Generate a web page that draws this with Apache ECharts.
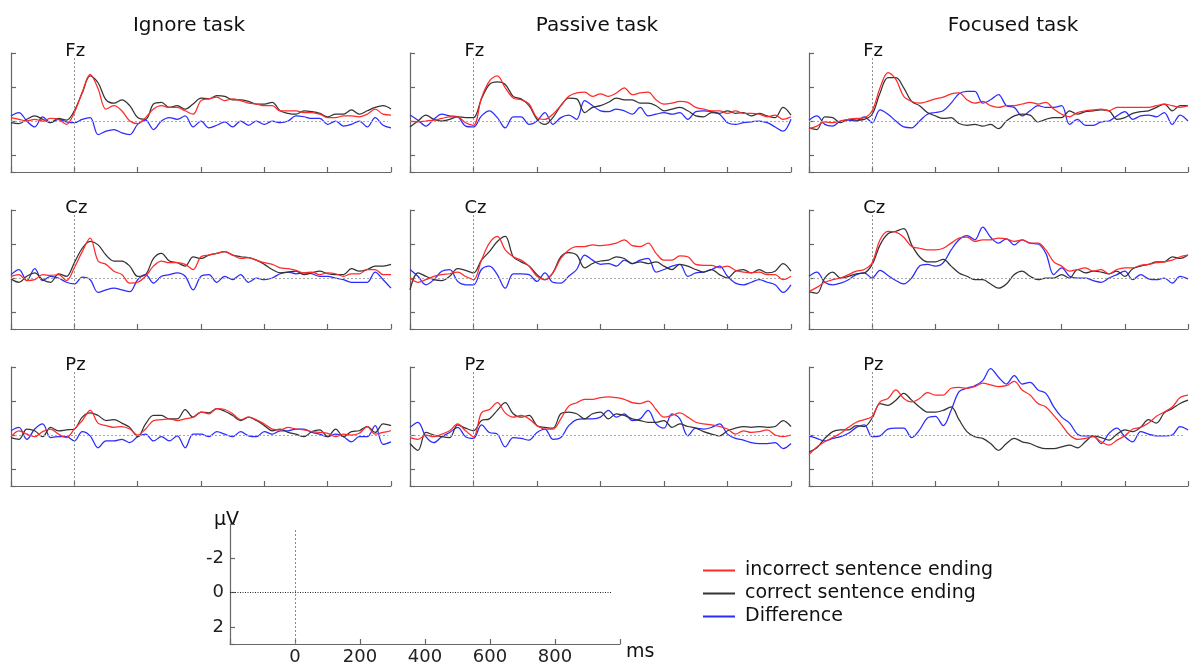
<!DOCTYPE html>
<html>
<head>
<meta charset="utf-8">
<script src="https://cdn.jsdelivr.net/npm/echarts@6/dist/echarts.min.js"></script>
<style>
  html, body { margin: 0; padding: 0; background: #ffffff; }
  #chart { width: 1192px; height: 663px; }
</style>
</head>
<body>
<div id="chart"></div>
<script>
// ---------------- data ----------------
const timeMs = [-200,-175,-150,-125,-100,-75,-50,-25,0,25,50,75,100,125,150,175,200,225,250,275,300,325,350,375,400,425,450,475,500,525,550,575,600,625,650,675,700,725,750,775,800,825,850,875,900,925,950,975,1000];
const taskNames = ['Ignore task', 'Passive task', 'Focused task'];
const electrodeNames = ['Fz', 'Cz', 'Pz'];
const seriesNames = ['incorrect sentence ending', 'correct sentence ending', 'Difference'];
const scaleXTicks = [0, 200, 400, 600, 800];
const scaleYTicks = [-2, 0, 2];

// Fz
const fzIgnoreIncorrect = [-0.2,-0.1,0,-0.1,0,-0.15,-0.1,0.2,-0.5,-1.7,-2.75,-1.9,-0.7,-0.9,-0.6,0,0.15,-0.2,-0.7,-0.9,-0.8,-0.8,-0.6,-0.4,-1.2,-1.3,-1.4,-1.2,-1.3,-1.2,-1.05,-1.0,-0.9,-0.9,-0.6,-0.6,-0.6,-0.5,-0.5,-0.4,-0.2,-0.2,-0.3,-0.3,-0.25,-0.4,-0.7,-0.4,-0.35];
const fzIgnoreCorrect = [0.1,0.15,-0.1,-0.3,-0.1,0.1,-0.15,-0.05,-0.6,-1.65,-2.65,-2.25,-1.25,-1.05,-1.25,-0.9,-0.2,-0.1,-1.0,-1.1,-0.8,-0.9,-0.7,-1.0,-1.35,-1.3,-1.5,-1.45,-1.25,-1.25,-1.15,-1.0,-1.0,-1.1,-0.6,-0.45,-0.4,-0.6,-0.55,-0.45,-0.25,-0.4,-0.4,-0.65,-0.4,-0.6,-0.8,-0.9,-0.7];
const fzIgnoreDiff = [-0.3,-0.5,0,0.35,-0.25,0.1,-0.1,0.05,0.1,-0.1,-0.2,0.8,0.6,0.5,0.7,0.8,0.2,-0.05,0.5,0,-0.2,-0.1,-0.3,0.35,0,0.4,0.25,0.05,0.35,0,0.25,0,0.2,0,0.1,0,-0.3,-0.25,-0.15,-0.15,0.2,0,0.3,0.2,0,0.35,-0.2,0.25,0.4];
const fzPassiveIncorrect = [0,0.05,0,-0.05,-0.15,-0.25,-0.25,0.1,0.25,-1.35,-2.35,-2.65,-1.95,-1.35,-1.25,-1.0,-0.2,-0.1,-0.4,-0.9,-1.45,-1.65,-1.7,-1.45,-1.6,-1.45,-1.65,-1.95,-1.55,-1.65,-1.7,-1.25,-1.0,-1.05,-1.15,-1.1,-0.8,-0.7,-0.6,-0.6,-0.45,-0.6,-0.45,-0.45,-0.4,-0.25,-0.35,-0.1,-0.25];
const fzPassiveCorrect = [0.35,0,-0.35,-0.1,0,-0.1,-0.25,-0.2,-0.2,-1.3,-2.15,-2.3,-2.15,-1.45,-1.3,-0.9,-0.1,0.2,-0.2,-0.9,-1.35,-1.3,-0.5,-0.8,-0.9,-1.1,-1.35,-1.25,-1.25,-1.05,-1.05,-0.9,-0.6,-0.7,-0.8,-0.6,-0.3,-0.25,-0.5,-0.45,-0.6,-0.45,-0.5,-0.3,-0.45,-0.3,-0.2,-0.8,-0.35];
const fzPassiveDiff = [-0.35,-0.05,0.3,-0.1,-0.4,-0.3,-0.25,0.3,0.35,-0.3,-0.6,-0.2,0.4,-0.25,-0.25,0.2,0,-0.5,0.2,-0.2,-0.35,-0.1,-1.2,-0.9,-0.6,-0.55,-0.7,-0.6,-0.4,-0.8,-0.3,-0.4,-0.5,-0.4,-0.5,-0.1,-0.55,-0.6,-0.55,-0.4,0.1,0.2,0.1,0.05,0,0.1,0.35,0.6,-0.1];
const fzFocusedIncorrect = [0.45,0.3,0.05,0.1,0,-0.1,-0.15,-0.2,-0.6,-1.95,-2.85,-2.45,-1.45,-1.15,-1.05,-1.15,-1.3,-1.4,-1.6,-1.65,-1.25,-1.05,-1.15,-0.9,-0.8,-0.9,-0.9,-1.0,-1.1,-1.0,-1.1,-0.7,-0.4,-0.25,-0.5,-0.6,-0.65,-0.7,-0.6,-0.8,-0.8,-0.8,-0.8,-0.8,-0.9,-1.0,-0.9,-0.8,-0.9];
const fzFocusedCorrect = [0.4,0.5,-0.25,-0.2,0.1,-0.1,-0.05,-0.1,-0.4,-1.65,-2.55,-2.55,-1.95,-1.15,-0.9,-0.5,-0.3,-0.15,-0.2,0.15,0.25,0.2,0.3,0.2,0.45,0,-0.3,-0.4,-0.35,0.05,-0.1,-0.2,-0.2,-0.6,-0.4,-0.55,-0.6,-0.65,-0.6,-0.1,-0.2,-0.45,-0.55,-0.6,-0.8,-1.0,-0.6,-0.9,-0.9];
const fzFocusedDiff = [-0.05,-0.3,0.2,0.3,0,-0.05,0,-0.25,0.1,-0.65,-0.4,0,0.35,0.4,0,-0.4,-0.5,-0.6,-1.05,-1.6,-1.75,-1.75,-1.05,-1.25,-1.55,-0.9,-0.8,-0.3,-0.6,-0.9,-0.8,-0.8,-0.9,0.2,-0.1,0.25,0.25,0.05,0,-0.3,-0.55,-0.1,-0.3,-0.35,-0.25,-0.5,0.2,-0.35,0];

// Cz
const czIgnoreIncorrect = [-0.1,-0.2,0.15,0.1,-0.2,-0.15,-0.2,0.15,-0.6,-1.55,-2.35,-1.0,-0.8,-0.4,-0.2,0.3,0.25,-0.1,-0.7,-1.0,-0.9,-0.9,-0.8,-0.5,-1.25,-1.35,-1.45,-1.55,-1.35,-1.15,-1.2,-1.05,-0.9,-0.8,-0.6,-0.55,-0.45,-0.3,-0.35,-0.2,-0.3,-0.25,-0.1,-0.25,-0.25,-0.5,-0.5,-0.2,-0.2];
const czIgnoreCorrect = [0.05,0.25,-0.1,-0.3,0.1,0.25,-0.25,-0.1,-0.9,-1.75,-2.15,-1.95,-1.35,-1.0,-1.0,-0.7,-0.1,-0.2,-1.15,-1.45,-1.0,-0.9,-0.7,-1.25,-1.15,-1.35,-1.45,-1.55,-1.35,-1.25,-1.2,-1.05,-0.8,-0.5,-0.3,-0.35,-0.4,-0.2,-0.3,-0.4,-0.25,-0.2,-0.2,-0.55,-0.4,-0.5,-0.7,-0.7,-0.8];
const czIgnoreDiff = [-0.2,-0.5,0.15,-0.55,0.15,-0.1,0,0.25,0.35,-0.05,0.1,0.85,0.7,0.6,0.7,0.8,0.1,-0.2,0.3,-0.1,-0.2,-0.3,-0.1,0.7,-0.1,-0.2,0.25,-0.1,0.1,-0.2,0.25,0,0.1,0,-0.25,-0.35,-0.25,-0.3,-0.25,-0.1,-0.1,0,0.1,0.25,0.25,0.25,-0.35,0.1,0.6];
const czPassiveIncorrect = [0,0.25,0.1,-0.1,-0.2,-0.25,-0.35,-0.1,0.1,-1.05,-2.05,-2.45,-1.65,-1.25,-1.05,-0.7,-0.1,0.1,-0.3,-1.15,-1.65,-1.85,-1.85,-1.95,-1.9,-1.95,-2.05,-2.25,-1.9,-1.85,-2.05,-1.45,-1.05,-1.05,-1.3,-1.25,-0.8,-0.75,-0.75,-0.6,-0.7,-0.45,-0.35,-0.3,-0.35,-0.2,-0.2,0.1,-0.1];
const czPassiveCorrect = [0.7,-0.3,-0.1,0.1,0.15,-0.1,-0.55,-0.45,-0.3,-1.05,-1.55,-2.15,-2.45,-1.25,-0.95,-0.7,-0.2,0.1,-0.3,-1.25,-1.5,-1.35,-0.6,-0.85,-1.0,-1.05,-1.25,-1.15,-0.85,-0.95,-0.85,-0.95,-0.7,-0.5,-0.8,-0.7,-0.5,-0.35,-0.5,-0.2,0,-0.4,-0.5,-0.3,-0.5,-0.3,-0.4,-0.85,-0.4];
const czPassiveDiff = [-0.5,-0.1,0.4,0.1,-0.4,-0.5,0.2,0.4,0.4,-0.5,-0.7,-0.2,0.6,-0.25,-0.25,-0.2,0.2,-0.3,0.25,0.3,-0.1,-0.5,-1.35,-1.05,-0.8,-0.85,-0.7,-1.05,-0.85,-1.05,-1.15,-0.35,-0.5,-0.7,-0.8,-0.1,-0.3,-0.35,-0.5,-0.7,-0.1,0.3,0.4,0.25,0.1,0.25,0.4,0.85,0.4];
const czFocusedIncorrect = [0.8,0.55,0.25,0.1,0,-0.2,-0.4,-0.5,-0.9,-2.25,-2.75,-2.7,-2.4,-1.85,-1.75,-1.65,-1.65,-1.75,-2.05,-2.35,-2.4,-2.15,-2.25,-2.25,-2.35,-2.3,-2.15,-2.25,-2.05,-2.05,-1.65,-0.95,-0.7,-0.4,-0.5,-0.6,-0.4,-0.5,-0.25,-0.5,-0.6,-0.6,-0.75,-0.8,-0.9,-0.95,-1.05,-1.25,-1.35];
const czFocusedCorrect = [0.8,0.9,0,-0.35,0,-0.1,-0.25,-0.3,-0.8,-1.95,-2.6,-2.75,-2.9,-1.95,-1.25,-0.95,-0.95,-1.1,-0.7,-0.3,-0.1,0.1,0.1,0.35,0.6,0.35,-0.2,-0.4,-0.1,0.1,0,0,-0.2,0,-0.5,-0.3,-0.4,-0.35,-0.25,-0.4,-0.1,-0.55,-0.7,-0.8,-0.95,-0.95,-1.25,-1.15,-1.35];
const czFocusedDiff = [-0.1,-0.35,0.25,0.4,0.3,0.1,-0.2,-0.3,0,-0.45,-0.15,0.15,0.35,0,-0.7,-0.8,-0.7,-0.9,-1.65,-2.25,-2.5,-2.25,-3.0,-2.4,-2.05,-2.3,-1.95,-2.25,-2.05,-2.0,-1.45,-0.2,-0.6,-0.1,0,0,0.15,0.25,0,-0.2,-0.4,0.1,-0.2,0.05,0.1,0,0.3,-0.1,0.05];

// Pz
const pzIgnoreIncorrect = [0.1,-0.25,-0.05,0.1,-0.2,-0.35,-0.05,0.15,-0.35,-0.85,-1.45,-0.7,-0.55,-0.45,-0.5,-0.35,0,-0.35,-0.85,-0.9,-0.95,-0.85,-0.95,-1.05,-1.35,-1.25,-1.55,-1.5,-1.25,-0.9,-1.05,-0.9,-0.65,-0.35,-0.3,-0.45,-0.35,-0.3,-0.2,-0.15,-0.1,0.1,-0.05,0,-0.1,-0.5,-0.05,-0.15,-0.25];
const pzIgnoreCorrect = [0.15,0.25,-0.35,-0.25,0.1,-0.45,-0.25,-0.3,-0.35,-1.05,-1.3,-1.15,-0.85,-0.9,-0.7,-0.45,0.1,-0.65,-1.15,-1.15,-0.95,-0.95,-1.5,-1.05,-1.35,-1.3,-1.55,-1.4,-1.15,-0.85,-1.05,-0.85,-0.55,-0.25,-0.35,-0.15,-0.05,0.1,-0.2,-0.3,0.1,-0.35,0.1,-0.2,-0.25,-0.5,-0.15,-0.65,-0.55];
const pzIgnoreDiff = [-0.25,-0.45,0.25,-0.35,-0.65,0.15,0.1,0.1,0.35,-0.2,0.05,0.75,0.35,0.35,0.25,0.45,0.1,-0.05,0.35,0.1,0.35,0.05,0.75,-0.05,-0.05,0.1,-0.2,-0.05,0.1,-0.2,0.05,0.1,-0.2,-0.05,-0.25,-0.25,-0.35,-0.35,-0.15,-0.05,0.1,-0.05,0.1,0.4,0.1,0.1,-0.55,0.55,0.4];
const pzPassiveIncorrect = [0.15,0.25,0,0.1,-0.05,-0.25,-0.65,-0.25,0.1,-1.3,-1.5,-1.9,-1.3,-1.05,-1.15,-0.95,-0.55,-0.35,-0.35,-0.95,-1.7,-1.9,-2.1,-2.1,-2.2,-2.25,-2.2,-2.1,-1.9,-1.85,-2.0,-1.5,-1.05,-1.15,-1.3,-1.05,-0.75,-0.65,-0.6,-0.5,-0.35,-0.05,-0.25,-0.15,-0.2,-0.3,0,0.1,0];
const pzPassiveCorrect = [0.5,0.9,-0.15,0,0.1,0.15,-0.6,-0.4,-0.25,-0.85,-0.95,-1.45,-1.9,-1.25,-1.05,-1.15,-0.55,-0.45,-0.4,-1.25,-1.35,-1.25,-0.95,-1.25,-1.35,-0.95,-1.25,-1.15,-0.95,-0.85,-0.75,-0.75,-0.85,-0.45,-0.65,-0.5,-0.4,-0.2,-0.05,0.05,-0.25,-0.4,-0.5,-0.45,-0.5,-0.45,-0.5,-0.85,-0.5];
const pzPassiveDiff = [-0.45,-0.75,0.1,0.45,0.1,-0.15,-0.45,0.1,0.2,-0.6,-0.15,-0.05,0.7,0.15,0.2,0.3,-0.15,-0.35,0.25,0.15,-0.55,-0.9,-0.95,-0.95,-1.05,-1.45,-1.05,-1.25,-0.85,-0.95,-1.45,-0.65,-0.4,-1.25,-0.95,0.05,-0.4,-0.35,-0.45,-0.65,-0.05,0.2,0.3,0.45,0.5,0.5,0.45,0.8,0.5];
const pzFocusedIncorrect = [1.15,0.7,0.4,0.15,-0.1,-0.45,-0.75,-0.9,-1.1,-1.95,-2.15,-2.65,-2.15,-1.95,-2.15,-2.5,-2.35,-2.35,-2.75,-2.8,-2.75,-2.85,-3.05,-2.95,-2.85,-2.9,-3.15,-2.65,-2.35,-1.85,-1.65,-1.15,-0.6,0,0.25,0.2,0.1,0.4,0.6,0.3,0.05,-0.35,-0.45,-0.7,-1.1,-1.35,-1.65,-2.2,-2.35];
const pzFocusedCorrect = [1.0,0.75,0.2,-0.2,-0.3,-0.3,-0.55,-0.5,-1.0,-1.85,-1.75,-2.05,-2.45,-2.05,-1.65,-1.35,-1.35,-1.45,-1.65,-0.9,-0.2,0.1,0.2,0.5,0.9,0.5,0.2,0.4,0.5,0.7,0.8,0.8,0.7,0.6,0.75,0.4,0.05,0.15,0.3,-0.05,-0.3,-0.2,-0.45,-0.9,-0.7,-1.3,-1.55,-1.85,-2.05];
const pzFocusedDiff = [0.05,0.2,0.35,0.2,0.1,-0.1,-0.45,-0.6,0.1,0.05,-0.35,-0.4,-0.4,0.15,-0.3,-1.0,-1.1,-0.55,-1.45,-2.55,-2.75,-2.9,-3.2,-3.9,-3.4,-3.0,-3.5,-3.0,-3.1,-2.65,-2.45,-1.65,-1.05,-0.7,-0.05,0.05,0.05,0.5,-0.1,-0.4,0.1,0.4,-0.2,-0.05,0.05,0.05,0,-0.5,-0.3];

// panel table: rows = electrodes, columns = tasks
const panelData = [
  [[fzIgnoreIncorrect, fzIgnoreCorrect, fzIgnoreDiff], [fzPassiveIncorrect, fzPassiveCorrect, fzPassiveDiff], [fzFocusedIncorrect, fzFocusedCorrect, fzFocusedDiff]],
  [[czIgnoreIncorrect, czIgnoreCorrect, czIgnoreDiff], [czPassiveIncorrect, czPassiveCorrect, czPassiveDiff], [czFocusedIncorrect, czFocusedCorrect, czFocusedDiff]],
  [[pzIgnoreIncorrect, pzIgnoreCorrect, pzIgnoreDiff], [pzPassiveIncorrect, pzPassiveCorrect, pzPassiveDiff], [pzFocusedIncorrect, pzFocusedCorrect, pzFocusedDiff]]
];

// ---------------- layout / style ----------------
const FONT = 'DejaVu Sans';
const lineColors = ['#ff2a2a', '#333333', '#2b2bff'];
const colLeft = [11, 410, 809];
const colWidth = [380, 381, 379];
const rowTop = [53, 210, 367];
const panelHeight = 119;
const axisColor = '#666666';

const grids = [], xAxes = [], yAxes = [], series = [], graphics = [];

function axisCommonX(gi) {
  return {
    type: 'value', gridIndex: gi, min: -200, max: 1000, interval: 200,
    axisLine: { show: true, onZero: false, lineStyle: { color: axisColor, width: 1.2 } },
    axisTick: { show: true, inside: true, length: 5, lineStyle: { color: axisColor, width: 1.2 } },
    axisLabel: { show: false }, splitLine: { show: false }
  };
}
function axisCommonY(gi) {
  return {
    type: 'value', gridIndex: gi, min: -4, max: 3, interval: 2, inverse: true,
    axisLine: { show: true, onZero: false, lineStyle: { color: axisColor, width: 1.2 } },
    axisTick: { show: true, inside: true, length: 5, lineStyle: { color: axisColor, width: 1.2 } },
    axisLabel: { show: false }, splitLine: { show: false }
  };
}

let gi = 0;
for (let r = 0; r < 3; r++) {
  for (let c = 0; c < 3; c++) {
    grids.push({ left: colLeft[c], top: rowTop[r], width: colWidth[c], height: panelHeight,
                 containLabel: false, outerBoundsMode: 'none' });
    xAxes.push(axisCommonX(gi));
    yAxes.push(axisCommonY(gi));
    const arrs = panelData[r][c];
    // draw order: difference, correct, incorrect (red on top)
    [2, 1, 0].forEach(k => {
      const s = {
        name: seriesNames[k], type: 'line', xAxisIndex: gi, yAxisIndex: gi,
        data: timeMs.map((t, i) => [t, arrs[k][i]]),
        showSymbol: false, smooth: 0.35, silent: true,
        color: lineColors[k],
        lineStyle: { color: lineColors[k], width: 1.25 },
        z: 3 + (2 - k)
      };
      if (k === 2) {
        s.markLine = {
          silent: true, symbol: ['none', 'none'], label: { show: false }, animation: false,
          data: [
            [{ coord: [-200, 0], lineStyle: { type: [2, 2], color: '#a8a8a8', width: 1 } }, { coord: [990, 0] }],
            [{ coord: [0, -3.7], lineStyle: { type: [2, 2], color: '#8a8a8a', width: 1 } }, { coord: [0, 3] }]
          ]
        };
      }
      series.push(s);
    });
    // electrode label
    const zeroX = colLeft[c] + colWidth[c] * 200 / 1200;
    graphics.push({
      type: 'text', left: zeroX - 9, top: rowTop[r] - 10.5, silent: true,
      style: { text: electrodeNames[r], font: '18px "' + FONT + '"', fill: '#111' }
    });
    gi++;
  }
}

// column titles
const titleCenters = [189, 597, 1013];
taskNames.forEach((t, i) => {
  graphics.push({
    type: 'text', x: titleCenters[i], y: 15.5, silent: true,
    style: { text: t, font: '20px "' + FONT + '"', fill: '#111', align: 'center', verticalAlign: 'top' }
  });
});

// scale key panel
const scaleIdx = gi;
grids.push({ left: 230, top: 524, width: 390, height: 120, containLabel: false, outerBoundsMode: 'none' });
xAxes.push({
  type: 'value', gridIndex: scaleIdx, min: -200, max: 1000, interval: 200,
  axisLine: { show: true, onZero: false, lineStyle: { color: axisColor, width: 1.2 } },
  axisTick: { show: true, inside: true, length: 5, lineStyle: { color: axisColor, width: 1.2 } },
  axisLabel: {
    show: true, margin: 4, color: '#222', fontFamily: FONT, fontSize: 18,
    formatter: v => scaleXTicks.indexOf(v) >= 0 ? String(v) : ''
  },
  splitLine: { show: false }
});
yAxes.push({
  type: 'value', gridIndex: scaleIdx, min: -4, max: 3, interval: 2, inverse: true,
  axisLine: { show: true, onZero: false, lineStyle: { color: axisColor, width: 1.2 } },
  axisTick: { show: true, inside: true, length: 5, lineStyle: { color: axisColor, width: 1.2 } },
  axisLabel: {
    show: true, margin: 6, color: '#222', fontFamily: FONT, fontSize: 18,
    formatter: v => scaleYTicks.indexOf(v) >= 0 ? String(v) : ''
  },
  splitLine: { show: false }
});
series.push({
  type: 'line', xAxisIndex: scaleIdx, yAxisIndex: scaleIdx, silent: true,
  data: [[-200, 0]], showSymbol: false, lineStyle: { opacity: 0 },
  markLine: {
    silent: true, symbol: ['none', 'none'], label: { show: false }, animation: false,
    data: [
      [{ coord: [-200, 0], lineStyle: { type: [1, 1.5], color: '#222', width: 1 } }, { coord: [975, 0] }],
      [{ coord: [0, -3.65], lineStyle: { type: [2, 2], color: '#8a8a8a', width: 1 } }, { coord: [0, 3] }]
    ]
  }
});
graphics.push({
  type: 'text', left: 214, top: 511, silent: true,
  style: { text: 'µV', font: '19px "' + FONT + '"', fill: '#111' }
});
graphics.push({
  type: 'text', left: 626, top: 643, silent: true,
  style: { text: 'ms', font: '19px "' + FONT + '"', fill: '#111' }
});

const chart = echarts.init(document.getElementById('chart'), null, { renderer: 'canvas' });
chart.setOption({
  animation: false,
  backgroundColor: '#ffffff',
  grid: grids,
  xAxis: xAxes,
  yAxis: yAxes,
  series: series,
  legend: {
    show: true, orient: 'vertical', left: 698, top: 556,
    data: seriesNames, icon: 'rect', itemWidth: 32, itemHeight: 2, itemGap: 4,
    selectedMode: false,
    textStyle: { fontFamily: FONT, fontSize: 19, color: '#111', padding: [0, 0, 0, 5] }
  },
  graphic: graphics
});
</script>
</body>
</html>
